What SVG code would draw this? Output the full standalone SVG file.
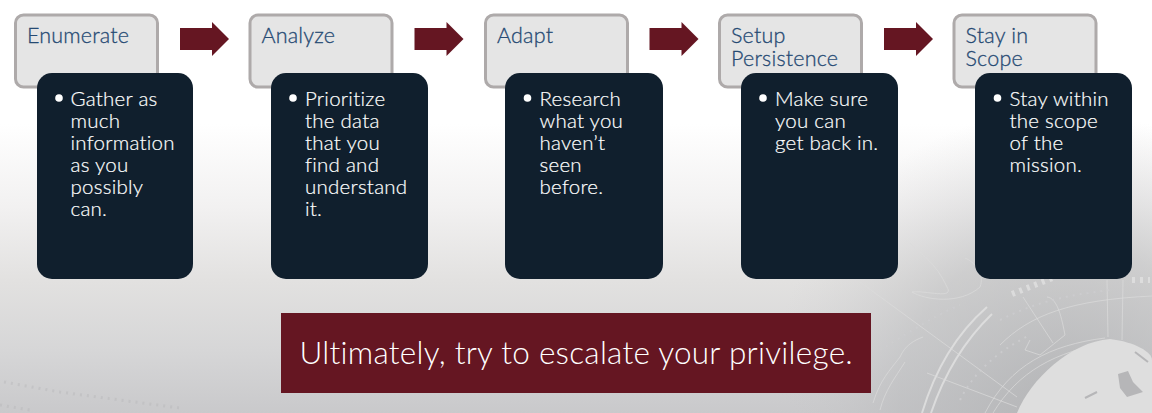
<svg xmlns="http://www.w3.org/2000/svg" width="1152" height="413" viewBox="0 0 1152 413">
<defs>
<linearGradient id="bg" x1="0" y1="0" x2="0" y2="1"><stop offset="0" stop-color="#fff"/><stop offset="0.3" stop-color="#fff"/><stop offset="0.5" stop-color="#f2f1f1"/><stop offset="0.68" stop-color="#e2e1e0"/><stop offset="0.85" stop-color="#d6d6d7"/><stop offset="1" stop-color="#c9c9cb"/></linearGradient>
<radialGradient id="grey" gradientUnits="userSpaceOnUse" cx="1060" cy="400" r="290"><stop offset="0" stop-color="#adaeb0" stop-opacity=".75"/><stop offset="0.55" stop-color="#b8b9bb" stop-opacity=".5"/><stop offset="1" stop-color="#cdcdcf" stop-opacity="0"/></radialGradient>
<polygon id="arrow" points="0,-11 32,-11 32,-17 49,0 32,17 32,11 0,11" fill="#651622"/>
</defs>
<style>
.lbl{font:300 21.500px Lato,"Liberation Sans",sans-serif;fill:#264a73;stroke:#264a73;stroke-width:.3px;letter-spacing:.2px}
.body{font:300 20.500px Lato,"Liberation Sans",sans-serif;fill:#fff;stroke:#fff;stroke-width:.2px;letter-spacing:.25px}
.head{fill:#e5e5e5;stroke:#aeaaaa;stroke-width:3}
.card{fill:#101f2d}
.map{fill:none;stroke:#dcdcdc;stroke-width:1;opacity:.7}
.arc{fill:none;stroke:#e2e2e2;stroke-width:2;opacity:.8}
.bits{fill:none;stroke:#cdcdcf;stroke-width:2;stroke-dasharray:2 5;opacity:.8}
.bits2{fill:none;stroke:#b4b4b6;stroke-width:3;stroke-dasharray:2 5;opacity:.4}
.bright{fill:none;stroke:#e4e4e4;stroke-width:6;stroke-dasharray:3 5;opacity:.7}
</style>
<rect width="1152" height="413" fill="url(#bg)"/>
<rect x="770" y="110" width="382" height="303" fill="url(#grey)"/>
<g id="background-map">
<path class="arc" d="M922 413C935 370 955 335 987 307"/>
<path class="arc" d="M931 413C945 372 965 340 992 314"/>
<path class="map" d="M860 282L1017 397M927 373L1017 407M1023 297L1053 343M1107 280L1108 337M1123 280L1122 340M1000 345C1030 315 1070 300 1152 296M985 413C1010 365 1050 345 1105 338M993 413C1018 372 1055 351 1110 343"/>
<path class="map" d="M910 243C925 258 935 262 947 287C955 300 925 290 912 292C925 300 960 305 980 287C985 275 975 262 965 258M873 403C880 380 890 370 900 357C905 345 915 340 923 337M880 410C885 390 895 378 905 362M1047 297C1058 298 1062 320 1065 335L1040 355L1025 350L1030 340"/>
<path class="bits" d="M880 350C905 335 935 315 960 305M1000 320C1040 300 1070 295 1110 290M960 400C975 370 1000 350 1030 335"/>
<path d="M1017 413C1030 380 1070 342 1110 339C1135 342 1152 352 1152 360V413Z" fill="#dedede"/>
<path d="M1118 374L1128 371L1133 382L1143 392L1127 397L1120 388Z" fill="#b6b6b8"/>
<path d="M1085 398L1097 392M1135 352L1148 362" fill="none" stroke="#b6b6b8" stroke-width="2"/>
<path class="bright" d="M1012 294L1060 275"/>
<path class="bright" stroke-width="5" d="M1132 280H1150"/>
<path class="bits2" d="M4 382L60 392L120 400L180 408M0 405L30 410"/>
</g>
<g id="connectors">
<use href="#arrow" x="180" y="39"/>
<use href="#arrow" x="414.500" y="39"/>
<use href="#arrow" x="649.500" y="39"/>
<use href="#arrow" x="884" y="39"/>
</g>
<g id="enumerate">
<rect class="head" x="15.500" y="15" width="142" height="72" rx="8"/>
<text class="lbl" x="27" y="43">Enumerate</text>
<rect class="card" x="37" y="73" width="156" height="206" rx="15"/>
<circle cx="59" cy="98" r="3.800" fill="#fff"/>
<text class="body"><tspan x="70.500" y="106">Gather as</tspan><tspan x="70.500" y="128">much</tspan><tspan x="70.500" y="150">information</tspan><tspan x="70.500" y="172">as you</tspan><tspan x="70.500" y="194">possibly</tspan><tspan x="70.500" y="216">can.</tspan></text>
</g>
<g id="analyze">
<rect class="head" x="250" y="15" width="142" height="72" rx="8"/>
<text class="lbl" x="261.500" y="43">Analyze</text>
<rect class="card" x="271" y="73" width="157" height="206" rx="15"/>
<circle cx="293" cy="98" r="3.800" fill="#fff"/>
<text class="body"><tspan x="305" y="106">Prioritize</tspan><tspan x="305" y="128">the data</tspan><tspan x="305" y="150">that you</tspan><tspan x="305" y="172">find and</tspan><tspan x="305" y="194">understand</tspan><tspan x="305" y="216">it.</tspan></text>
</g>
<g id="adapt">
<rect class="head" x="485.500" y="15" width="142" height="72" rx="8"/>
<text class="lbl" x="497" y="43">Adapt</text>
<rect class="card" x="505" y="73" width="158" height="206" rx="15"/>
<circle cx="527.500" cy="98" r="3.800" fill="#fff"/>
<text class="body"><tspan x="539.500" y="106">Research</tspan><tspan x="539.500" y="128">what you</tspan><tspan x="539.500" y="150">haven’t</tspan><tspan x="539.500" y="172">seen</tspan><tspan x="539.500" y="194">before.</tspan></text>
</g>
<g id="setup-persistence">
<rect class="head" x="719.500" y="15" width="142" height="72" rx="8"/>
<text class="lbl" x="731" y="43">Setup</text>
<text class="lbl" x="731" y="66">Persistence</text>
<rect class="card" x="741" y="73" width="157" height="206" rx="15"/>
<circle cx="763" cy="98" r="3.800" fill="#fff"/>
<text class="body"><tspan x="775" y="106">Make sure</tspan><tspan x="775" y="128">you can</tspan><tspan x="775" y="150">get back in.</tspan></text>
</g>
<g id="stay-in-scope">
<rect class="head" x="954" y="15" width="142" height="72" rx="8"/>
<text class="lbl" x="965.500" y="43">Stay in</text>
<text class="lbl" x="965.500" y="66">Scope</text>
<rect class="card" x="975" y="73" width="157" height="206" rx="15"/>
<circle cx="997.500" cy="98" r="3.800" fill="#fff"/>
<text class="body"><tspan x="1009.500" y="106">Stay within</tspan><tspan x="1009.500" y="128">the scope</tspan><tspan x="1009.500" y="150">of the</tspan><tspan x="1009.500" y="172">mission.</tspan></text>
</g>
<g id="banner">
<rect x="281" y="313" width="590" height="80" fill="#651622"/>
<text x="299.500" y="364" style="font:300 31.500px Lato,'Liberation Sans',sans-serif;fill:#fff;letter-spacing:.27px">Ultimately, try to escalate your privilege.</text>
</g>
</svg>
